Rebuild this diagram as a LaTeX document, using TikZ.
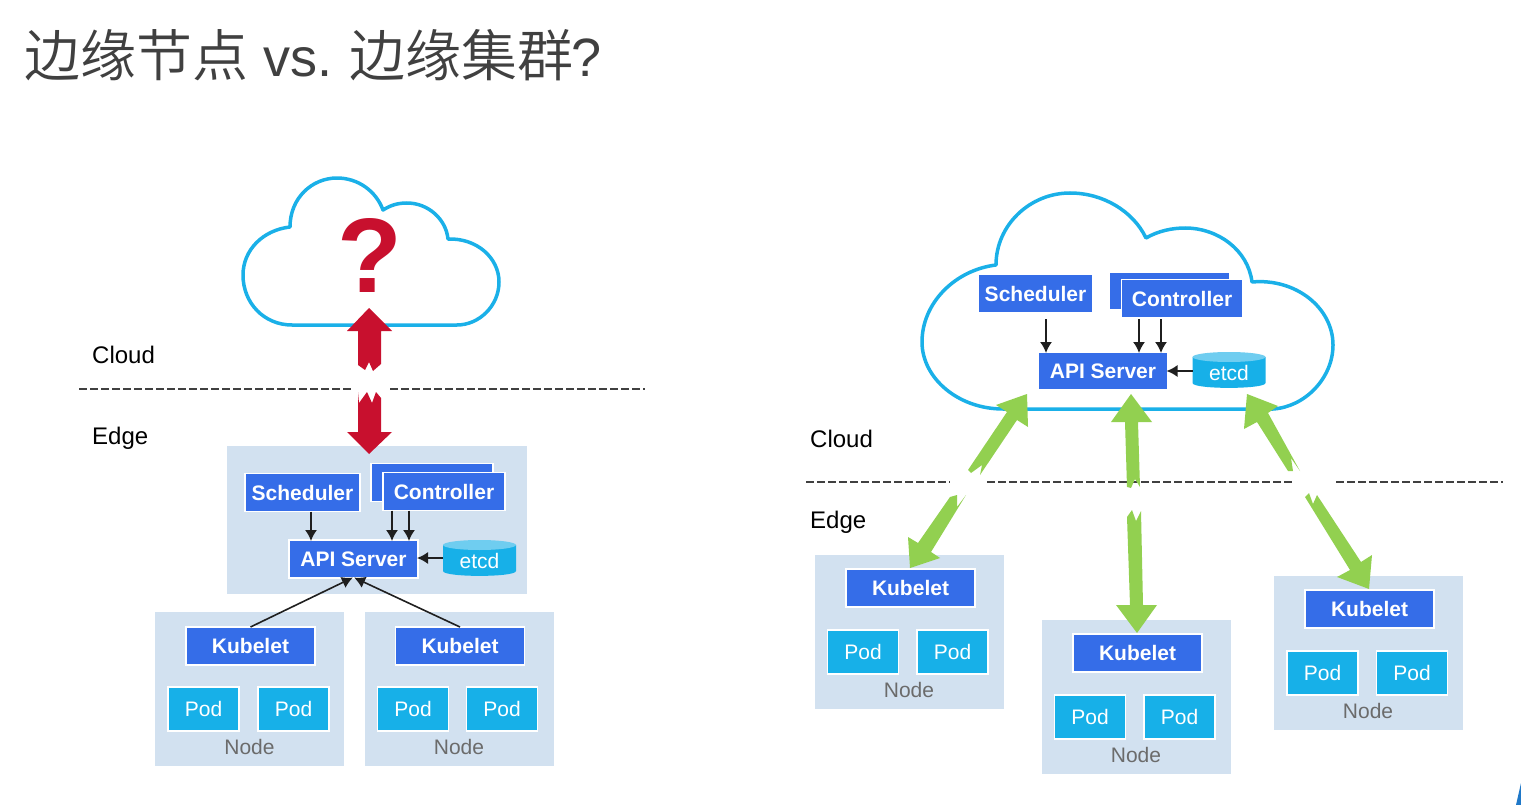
\documentclass[tikz,border=0pt]{standalone}
\usepackage{fontspec}
\setmainfont{Liberation Sans}
\newfontfamily\cjk{Noto Sans CJK SC DemiLight}
\usetikzlibrary{arrows.meta}
\definecolor{panel}{HTML}{D2E1F0}
\definecolor{kblue}{HTML}{356DE8}
\definecolor{podblue}{HTML}{17B0E8}
\definecolor{podtop}{HTML}{6FCDF0}
\definecolor{cloudline}{HTML}{1AB0E8}
\definecolor{kred}{HTML}{C8102E}
\definecolor{kgreen}{HTML}{92D050}
\definecolor{ttl}{HTML}{404040}
\definecolor{nodetxt}{HTML}{6B6B6B}
\definecolor{cornerblue}{HTML}{1F78C8}
\tikzset{
  panelbox/.style={fill=panel,inner sep=0pt,outer sep=0pt},
  kbox/.style={fill=kblue,draw=white,line width=1.2pt,text=white,font=\fontsize{21}{21}\selectfont\bfseries,inner sep=0pt,outer sep=0pt,minimum width=#1,minimum height=38pt},
  kbox/.default=129pt,
  podbox/.style={fill=podblue,draw=white,line width=1.2pt,text=white,font=\fontsize{21}{21}\selectfont,inner sep=0pt,outer sep=0pt,minimum width=71pt,minimum height=44pt},
  nodelabel/.style={text=nodetxt,font=\fontsize{21}{21}\selectfont,inner sep=0pt},
  etcdlabel/.style={text=white,font=\fontsize{21}{21}\selectfont,inner sep=0pt,outer sep=0pt,minimum width=73pt,minimum height=30pt},
  zonelabel/.style={text=black,font=\fontsize{24}{24}\selectfont,inner sep=0pt,anchor=base west},
  thinarrow/.style={draw=black!88,line width=1.6pt,-{Latex[length=11pt,width=12pt]},shorten >=-1pt},
  zone/.style={draw=ttl,line width=1.2pt,dash pattern=on 8pt off 3pt},
  cloudshape/.style={draw=cloudline,line width=3.5pt,fill=white,line join=round},
  redarrow/.style={fill=kred},
  greenarrow/.style={fill=kgreen}
}
\newcommand{\etcdbody}[2]{%
  \fill[podblue] (#1-36.5,#2-13) -- (#1-36.5,#2+13) .. controls (#1-36.5,#2+19.5) and (#1+36.5,#2+19.5) .. (#1+36.5,#2+13) -- (#1+36.5,#2-13) -- cycle;
  \fill[podtop] (#1,#2-13) ellipse [x radius=36.5, y radius=5];
}
\begin{document}
\begin{tikzpicture}[x=1pt,y=-1pt]
\useasboundingbox (0,0) rectangle (1521,805);
% title
\node[anchor=base west,inner sep=0pt,text=ttl,font=\fontsize{56}{56}\selectfont] (title) at (24,77) {{\cjk 边缘节点} {\fontsize{54}{54}\selectfont vs.}\kern-4pt{} {\cjk 边缘集群}\kern-2pt{\fontsize{54}{54}\selectfont ?}};
% zone labels
\node[zonelabel] (cloudL) at (92,363) {Cloud};
\node[zonelabel] (edgeL) at (92,444) {Edge};
\node[zonelabel] (cloudR) at (810,447) {Cloud};
\node[zonelabel] (edgeR) at (810,528) {Edge};
% dashed lines
\coordinate (la) at (79,389); \coordinate (lb) at (353,389);
\coordinate (lc) at (390,389); \coordinate (ld) at (645,389);
\draw[zone] (la) -- (lb); \draw[zone] (lc) -- (ld);
\coordinate (ra) at (806,482); \coordinate (rb) at (950,482);
\coordinate (rc) at (987,482); \coordinate (rd) at (1293,482);
\coordinate (re) at (1336,482); \coordinate (rf) at (1503,482);
\draw[zone] (ra) -- (rb); \draw[zone] (rc) -- (rd); \draw[zone] (re) -- (rf);
% left cloud
\draw[cloudshape] (292,325) .. controls (264,325) and (243,303) .. (243,275)
 .. controls (243,250) and (263,230) .. (290,227)
 .. controls (290,198) and (312,178) .. (337,178)
 .. controls (358,178) and (376,191) .. (383,210)
 .. controls (391,205) and (398,203) .. (407,203)
 .. controls (428,203) and (446,219) .. (448,239)
 .. controls (477,238) and (499,258) .. (499,282)
 .. controls (499,306) and (479,325) .. (457,325) -- cycle;
\node[text=kred,font=\fontsize{106}{106}\selectfont\bfseries,inner sep=0pt] (qm) at (369.5,255.5) {?};
% left cluster panel
\node[panelbox,minimum width=300pt,minimum height=148pt] (cp) at (377,520) {};
\node[panelbox,minimum width=189pt,minimum height=154pt] (n1) at (249.5,689) {};
\node[panelbox,minimum width=189pt,minimum height=154pt] (n2) at (459.5,689) {};
% red arrows
\fill[redarrow] (369,308) -- (392,331) -- (381,331) -- (381,364) -- (373,371) -- (369,362) -- (365,370) -- (358,365) -- (358,331) -- (347,331) -- cycle;
\fill[redarrow] (358,392) -- (359,403) -- (367,392) -- (372,403) -- (376,392) -- (381,398) -- (381,432) -- (392,432) -- (369,454) -- (347,432) -- (358,432) -- cycle;
% left boxes
\node[kbox=115pt] (sch) at (302.5,492.5) {Scheduler};
\node[kbox=122pt] (cb) at (432,482.5) {};
\node[kbox=122pt] (cf) at (444,491.5) {Controller};
\node[kbox] (api) at (353.5,559) {API Server};
\etcdbody{479.5}{558}
\node[etcdlabel] (etcd) at (479.5,561) {etcd};
\draw[thinarrow] ([xshift=8.5pt]sch.south) -- ([xshift=8.5pt]sch.south |- api.north);
\draw[thinarrow] ([xshift=-52pt]cf.south) -- ([xshift=-52pt]cf.south |- api.north);
\draw[thinarrow] ([xshift=-35pt]cf.south) -- ([xshift=-35pt]cf.south |- api.north);
\draw[thinarrow] ([yshift=3pt]etcd.west) -- ([yshift=3pt]etcd.west -| api.east);
\node[kbox] (k1) at (250.5,646) {Kubelet};
\node[kbox] (k2) at (460,646) {Kubelet};
\node[podbox] (p1) at (203.5,709) {Pod};
\node[podbox] (p2) at (293.5,709) {Pod};
\node[podbox] (p3) at (413,709) {Pod};
\node[podbox] (p4) at (502,709) {Pod};
\node[nodelabel] (nl1) at (249.5,747) {Node};
\node[nodelabel] (nl2) at (459,747) {Node};
\draw[thinarrow] (k1.north) -- ([xshift=-1.5pt]api.south);
\draw[thinarrow] (k2.north) -- ([xshift=1.5pt]api.south);
% right cloud
\draw[cloudshape] (1003,409) .. controls (958,409) and (922,378) .. (922,342)
 .. controls (922,303) and (955,270) .. (996,265)
 .. controls (996,225) and (1030,193) .. (1070,193)
 .. controls (1103,193) and (1133,211) .. (1146,238)
 .. controls (1158,231) and (1172,228) .. (1185,228)
 .. controls (1218,228) and (1248,250) .. (1252,282)
 .. controls (1296,278) and (1333,308) .. (1333,345)
 .. controls (1333,378) and (1305,407) .. (1273,409) -- cycle;
\node[kbox=114pt,minimum height=38pt] (rsch) at (1035.5,293.5) {Scheduler};
\node[kbox=121pt] (rcb) at (1169.5,291) {};
\node[kbox=121pt] (rcf) at (1182,298.5) {Controller};
\node[kbox] (rapi) at (1103,371) {API Server};
\etcdbody{1229}{370}
\node[etcdlabel] (retcd) at (1229,373) {etcd};
\coordinate (s1) at (1046,319); \coordinate (s2) at (1139,319); \coordinate (s3) at (1161,319);
\draw[thinarrow] (s1) -- (s1 |- rapi.north);
\draw[thinarrow] (s2) -- (s2 |- rapi.north);
\draw[thinarrow] (s3) -- (s3 |- rapi.north);
\draw[thinarrow] ([yshift=2pt]retcd.west) -- ([yshift=2pt]retcd.west -| rapi.east);
% right node panels
\node[panelbox,minimum width=189pt,minimum height=154pt] (m1) at (909.5,632) {};
\node[panelbox,minimum width=189pt,minimum height=154pt] (m2) at (1136.5,697) {};
\node[panelbox,minimum width=189pt,minimum height=154pt] (m3) at (1368.5,653) {};
\node[kbox] (rk1) at (910.5,588) {Kubelet};
\node[kbox] (rk2) at (1137.5,653) {Kubelet};
\node[kbox] (rk3) at (1369.5,609) {Kubelet};
\node[podbox] (q1) at (863,652) {Pod};
\node[podbox] (q2) at (952.5,652) {Pod};
\node[podbox] (q3) at (1090,717) {Pod};
\node[podbox] (q4) at (1179.5,717) {Pod};
\node[podbox] (q5) at (1322.5,673) {Pod};
\node[podbox] (q6) at (1412,673) {Pod};
\node[nodelabel] (nr1) at (909,690) {Node};
\node[nodelabel] (nr2) at (1136,755) {Node};
\node[nodelabel] (nr3) at (1368,711) {Node};
% green arrows
\fill[greenarrow] (1027,394) -- (1028,427) -- (1017,420) -- (980,475) -- (982,465) -- (971,473) -- (968,470) -- (1007,412) -- (996,405) -- cycle;
\fill[greenarrow] (950,497) -- (957,495) -- (957,507) -- (966,495) -- (931,552) -- (940,558) -- (910,568) -- (908,537) -- (918,543) -- cycle;
\fill[greenarrow] (1131,394) -- (1152,422) -- (1138,422) -- (1140,487) -- (1135,479) -- (1131,488) -- (1127,487) -- (1125,422) -- (1111,422) -- cycle;
\fill[greenarrow] (1127,517) -- (1132,510) -- (1136,521) -- (1141,511) -- (1143,605) -- (1157,605) -- (1137,633) -- (1116,605) -- (1130,605) -- cycle;
\fill[greenarrow] (1247,394) -- (1278,406) -- (1268,413) -- (1300,471) -- (1291,458) -- (1293,471) -- (1288,471) -- (1257,422) -- (1244,429) -- cycle;
\fill[greenarrow] (1305,497) -- (1309,493) -- (1313,504) -- (1317,495) -- (1361,562) -- (1372,555) -- (1369,589) -- (1337,577) -- (1350,570) -- cycle;
% corner mark
\fill[cornerblue] (1516,805) -- (1521,783) -- (1521,805) -- cycle;
\end{tikzpicture}
\end{document}
